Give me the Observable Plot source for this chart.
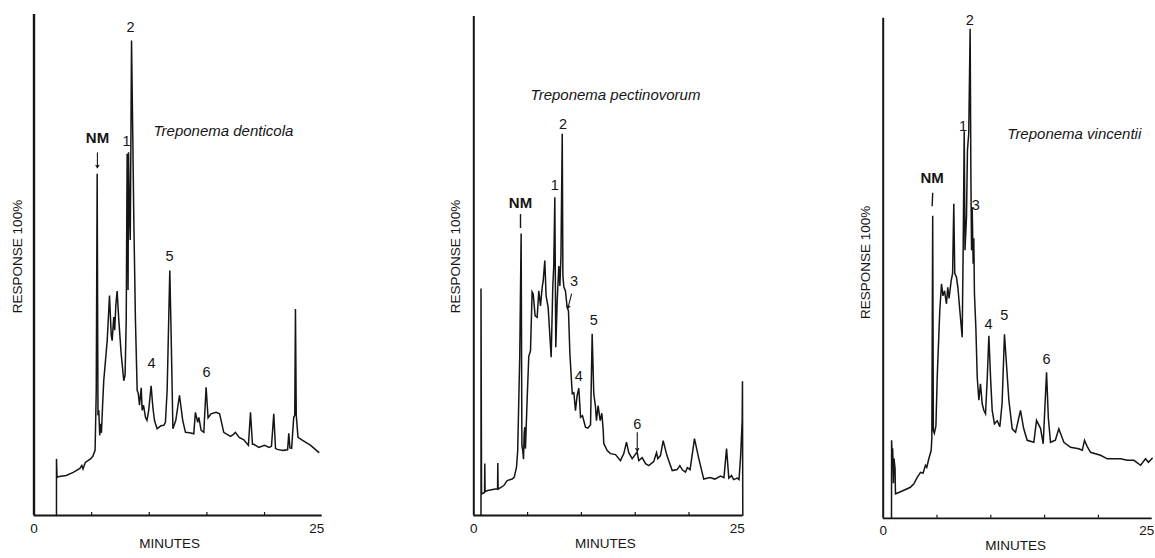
<!DOCTYPE html>
<html>
<head>
<meta charset="utf-8">
<script src="https://cdn.jsdelivr.net/npm/d3@7"></script>
<script src="https://cdn.jsdelivr.net/npm/@observablehq/plot@0.6"></script>
<style>
  body { margin: 0; background: #fff; }
  #fig { position: relative; width: 1155px; height: 558px; overflow: hidden; background: #fff; }
  .panel { position: absolute; top: 0; }
  .panel svg { overflow: visible; }
</style>
</head>
<body>
<div id="fig"></div>
<script>
// ---------------- data ----------------
const xTickLabels = [0, 25];
const xMinorTicks = [5, 10, 15, 20];
const yAxisTitle = "RESPONSE 100%";
const xAxisTitle = "MINUTES";
const speciesNames = ["Treponema denticola", "Treponema pectinovorum", "Treponema vincentii"];

// [minutes, response %]
const denticola = [
  [1.95,0],[1.95,11.3],[2.0,7.6],[2.2,7.8],[2.8,8.0],[3.4,8.6],[3.98,9.4],[4.15,10.0],[4.25,9.3],[4.45,10.6],
  [4.9,11.3],[5.1,11.8],[5.3,13.0],[5.4,25],[5.48,68.2],[5.55,20],[5.62,21],[5.7,16],[5.77,18.3],[5.85,16.5],
  [5.95,22],[6.05,26.9],[6.35,34.9],[6.55,43.9],[6.7,36],[6.78,34.9],[6.92,39.6],[7.0,37],[7.1,42],[7.21,44.8],
  [7.36,38.9],[7.56,32.3],[7.79,26.9],[7.9,28],[8.0,38.9],[8.08,72.2],[8.13,70],[8.16,45],[8.2,72.5],[8.28,60],
  [8.35,55],[8.46,94.8],[8.57,75.5],[8.66,58.9],[8.8,38.9],[8.95,25],[9.05,24.3],[9.15,22],[9.3,25.5],[9.38,21],
  [9.5,22],[9.67,19.6],[9.8,19],[9.95,21],[10.16,25.9],[10.31,21.6],[10.45,19],[10.54,18.3],[10.68,17.3],[11.0,17.9],
  [11.26,18],[11.4,18.6],[11.55,25],[11.78,48.9],[11.88,38],[12.05,17.3],[12.3,19],[12.62,24],[12.9,19],[13.14,16.6],
  [13.5,16.5],[13.86,16.3],[14.0,20.6],[14.2,18.6],[14.3,19.6],[14.5,17],[14.73,16.6],[14.93,25.6],[15.1,19.5],[15.35,20.3],
  [15.8,20.6],[16.1,20.3],[16.46,16.6],[17.04,15.8],[17.3,16.2],[17.47,16.6],[17.8,15.6],[18.2,15.1],[18.6,14.0],[18.78,20.6],
  [18.95,14.2],[19.07,14.2],[19.5,13.6],[20.0,14.0],[20.4,13.6],[20.6,13.8],[20.8,20.3],[20.95,13.4],[21.1,13.2],[21.6,13.0],
  [22.0,13.1],[22.1,16.4],[22.2,13.5],[22.35,13.4],[22.53,19.6],[22.62,20],[22.68,41.2],[22.75,20],[22.9,15.6],[23.3,15.0],
  [24.0,14.0],[24.7,12.6]
];

const pectinovorum = [
  [0.67,0],[0.67,45.5],[0.72,4.3],[0.9,4.5],[1.0,4.6],[1.02,10.4],[1.05,4.8],[1.3,5.0],[2.0,5.3],[2.21,5.3],
  [2.23,10.5],[2.26,5.3],[2.79,6.0],[3.1,7.0],[3.57,7.3],[3.76,7.7],[3.97,9.7],[4.08,13],[4.2,25],[4.27,31.9],
  [4.4,56.5],[4.47,14.1],[4.55,13],[4.62,11.3],[4.68,16.4],[4.74,17.7],[4.8,13.4],[4.96,23.4],[5.11,31.9],[5.27,33],
  [5.42,44.8],[5.52,44.4],[5.7,40],[5.89,39.7],[6.04,45],[6.2,42],[6.36,45.8],[6.45,47],[6.6,51.1],[6.72,44],
  [6.91,41.7],[7.06,36.4],[7.19,31.7],[7.34,45.8],[7.43,50],[7.53,63.8],[7.62,33.7],[7.75,43],[7.9,50],[8.0,46],
  [8.1,52],[8.22,76.5],[8.28,48],[8.37,45.8],[8.52,45],[8.67,41.7],[8.8,41],[8.93,32.4],[9.15,24.4],[9.3,24.6],
  [9.45,21],[9.6,24],[9.76,25.5],[9.92,19.7],[10.1,20],[10.2,19.2],[10.38,17.7],[10.6,17.5],[10.85,18.2],[11.0,36.4],
  [11.15,24.4],[11.3,22],[11.4,19],[11.55,22],[11.75,19],[11.9,20.5],[12.03,17],[12.08,14.4],[12.4,13.0],[12.7,12.4],
  [13.17,12.2],[13.63,11.0],[13.94,12.4],[14.19,14.7],[14.4,12.6],[14.72,11.4],[15.18,12.7],[15.33,11.0],[15.65,11.6],[15.96,10.4],
  [16.26,10.0],[16.72,10.8],[16.98,12.6],[17.1,11.4],[17.35,12.0],[17.6,15.0],[17.95,12.0],[18.44,9.0],[18.9,9.2],[19.15,10.0],
  [19.4,9.1],[19.67,8.7],[19.85,9.6],[20.1,9.2],[20.51,15.4],[20.9,11.5],[21.37,7.3],[21.95,7.6],[22.4,7.3],[22.93,7.9],
  [23.25,7.6],[23.49,13.4],[23.7,7.5],[23.95,8.0],[24.15,7.2],[24.48,7.5],[24.65,7.2],[24.8,12],[24.94,19],[24.97,26.9],
  [25.0,0]
];

const vincentii = [
  [0.77,0],[0.78,15.6],[0.84,12],[0.88,14],[0.95,7],[1.0,12],[1.1,10],[1.14,4.9],[1.5,5.2],[1.92,5.6],
  [2.53,6.2],[2.85,6.9],[3.16,8.2],[3.47,9.2],[3.7,9.0],[3.93,10.6],[4.05,10.2],[4.24,11.9],[4.46,13.6],[4.52,16],
  [4.6,60.5],[4.66,17.6],[4.75,17],[4.9,18.5],[5.02,28.2],[5.26,41.6],[5.42,46.9],[5.55,44.5],[5.7,45.5],[5.88,42.9],
  [6.0,46.2],[6.12,44],[6.32,47.6],[6.45,49],[6.56,62.9],[6.65,49],[6.81,48.2],[6.95,46],[7.12,41.6],[7.34,36.2],
  [7.43,53.6],[7.53,77.4],[7.6,53.6],[7.74,60.2],[7.83,73.6],[7.95,77],[8.08,97.9],[8.15,68.2],[8.21,53.6],[8.27,62.2],
  [8.36,50.9],[8.42,56],[8.48,44.9],[8.61,38.2],[8.74,28.2],[8.89,23.6],[9.04,26.9],[9.2,22.9],[9.35,21.6],[9.51,20.9],
  [9.67,28],[9.82,36.5],[9.98,28],[10.13,21.6],[10.34,18.9],[10.6,19.5],[10.84,18.3],[11.05,23],[11.27,36.8],[11.45,31],
  [11.68,23.6],[11.99,17.9],[12.3,17.2],[12.76,21.6],[13.05,18],[13.38,15.6],[14.0,15.2],[14.25,19.6],[14.62,18],[14.87,14.9],
  [15.18,29.2],[15.35,20],[15.55,15.2],[16.0,15.6],[16.32,17.9],[16.79,15.2],[17.41,14.2],[18.18,13.9],[18.5,13.6],[18.71,15.6],
  [18.95,14.4],[19.27,13.2],[20.2,12.6],[20.82,11.9],[22.06,11.9],[22.68,11.6],[23.3,11.6],[23.92,10.6],[24.38,11.9],[24.65,11.2],
  [25.0,12.0]
];

// peak labels (minutes, response %)
const denticolaLabels = [
  {text: "2", t: 8.37, v: 97.5}, {text: "1", t: 8.02, v: 74.7}, {text: "NM", t: 5.51, v: 75.4},
  {text: "5", t: 11.75, v: 51.7}, {text: "4", t: 10.19, v: 30.3}, {text: "6", t: 14.96, v: 28.5}
];
const pectinovorumLabels = [
  {text: "2", t: 8.29, v: 78.4}, {text: "1", t: 7.53, v: 66.1}, {text: "NM", t: 4.34, v: 62.5},
  {text: "3", t: 9.31, v: 47.0}, {text: "5", t: 11.15, v: 39.1}, {text: "4", t: 9.76, v: 27.8},
  {text: "6", t: 15.19, v: 18.3}
];
const vincentiiLabels = [
  {text: "2", t: 8.05, v: 99.6}, {text: "1", t: 7.43, v: 78.3}, {text: "3", t: 8.6, v: 62.6},
  {text: "NM", t: 4.55, v: 68.0}, {text: "4", t: 9.78, v: 38.8}, {text: "5", t: 11.25, v: 40.5},
  {text: "6", t: 15.18, v: 31.8}
];
// pointer strokes under labels (from -> to), head = arrowhead
const denticolaPointers = [{t1: 5.5, v1: 72.4, t2: 5.5, v2: 69.4, head: true}];
const pectinovorumPointers = [
  {t1: 4.34, v1: 60.4, t2: 4.34, v2: 57.6, head: false},
  {t1: 9.09, v1: 44.4, t2: 8.74, v2: 41.5, head: true},
  {t1: 15.19, v1: 16.6, t2: 15.19, v2: 12.9, head: true}
];
const vincentiiPointers = [{t1: 4.6, v1: 65.1, t2: 4.55, v2: 62.4, head: false}];
// title positions (minutes, response %)
const titlePos = [{t: 16.43, v: 76.8}, {t: 13.17, v: 84.3}, {t: 17.76, v: 76.9}];

// ---------------- layout ----------------
const FONT = '"Liberation Sans", Arial, Helvetica, sans-serif';
const INK = "#151515";
const panels = [
  {left: 0,   data: denticola,    labels: denticolaLabels,    pointers: denticolaPointers,
   mL: 33.5, mR: 63.3, mT: 14,   mB: 43,   yLabDx: -16.5, yLabDy: -8.5, xLabDx: -8.5, axisW: 2.4},
  {left: 385, data: pectinovorum, labels: pectinovorumLabels, pointers: pectinovorumPointers,
   mL: 88.3, mR: 27.7, mT: 16,   mB: 43,   yLabDx: -18.3, yLabDy: -9.5, xLabDx: -3, axisW: 2},
  {left: 770, data: vincentii,    labels: vincentiiLabels,    pointers: vincentiiPointers,
   mL: 112.7, mR: 3.3, mT: 17.8, mB: 40.2, yLabDx: -17.7, yLabDy: -6, xLabDx: -2, axisW: 2}
];

const fig = document.getElementById("fig");
panels.forEach((p, i) => {
  const labs = p.labels;
  const chart = Plot.plot({
    width: 385, height: 558,
    marginLeft: p.mL, marginRight: p.mR, marginTop: p.mT, marginBottom: p.mB,
    x: {domain: [0, 25], axis: null},
    y: {domain: [0, 100], axis: null},
    style: {fontFamily: FONT, color: INK, background: "transparent", overflow: "visible"},
    marks: [
      Plot.ruleX([0], {stroke: INK, strokeWidth: p.axisW}),
      Plot.ruleY([0], {stroke: INK, strokeWidth: 1.8}),
      Plot.ruleX(xMinorTicks, {x: d => d, y1: 0, y2: 0.6, stroke: INK, strokeWidth: 1.2}),
      Plot.line(p.data, {x: d => d[0], y: d => d[1], stroke: INK, strokeWidth: 1.5, strokeLinejoin: "miter", strokeMiterlimit: 4}),
      Plot.text(labs.filter(d => d.text !== "NM"), {x: "t", y: "v", text: "text", fontSize: 14.5, fill: INK}),
      Plot.text(labs.filter(d => d.text === "NM"), {x: "t", y: "v", text: "text", fontSize: 15, fontWeight: "bold", fill: INK}),
      Plot.arrow(p.pointers.filter(d => d.head), {x1: "t1", y1: "v1", x2: "t2", y2: "v2", stroke: INK, strokeWidth: 1.1, headLength: 4}),
      Plot.link(p.pointers.filter(d => !d.head), {x1: "t1", y1: "v1", x2: "t2", y2: "v2", stroke: INK, strokeWidth: 1.4}),
      Plot.text([speciesNames[i]], {x: () => titlePos[i].t, y: () => titlePos[i].v, text: d => d,
        fontSize: 15, fontStyle: "italic", fill: INK}),
      Plot.text([xTickLabels[0]], {x: d => d, frameAnchor: "bottom", dy: 17, text: d => String(d), fontSize: 13.5, fill: INK}),
      Plot.text([xTickLabels[1]], {x: d => d, frameAnchor: "bottom", dy: 17, dx: 2, textAnchor: "end", text: d => String(d), fontSize: 13.5, fill: INK}),
      Plot.text([xAxisTitle], {frameAnchor: "bottom", dy: 32, dx: p.xLabDx, text: d => d, fontSize: 13.5, fill: INK}),
      Plot.text([yAxisTitle], {frameAnchor: "left", textAnchor: "middle", rotate: -90, dx: p.yLabDx, dy: p.yLabDy, text: d => d, fontSize: 13.5, fill: INK})
    ]
  });
  const div = document.createElement("div");
  div.className = "panel";
  div.style.left = p.left + "px";
  div.appendChild(chart);
  fig.appendChild(div);
});
</script>
</body>
</html>
